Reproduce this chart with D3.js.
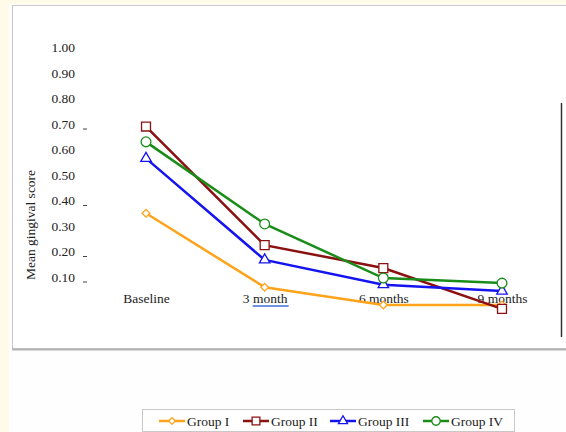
<!DOCTYPE html>
<html>
<head>
<meta charset="utf-8">
<script src="https://cdn.jsdelivr.net/npm/d3@7"></script>
<style>
html,body{margin:0;padding:0;background:#fffbe8;}
svg{display:block;}
</style>
</head>
<body>
<svg id="chart" width="566" height="432"></svg>
<script>
const categories = ["Baseline", "3 month", "6 months", "9 months"];
const groupNames = ["Group I", "Group II", "Group III", "Group IV"];
const groupI   = [0.35, 0.06, -0.01, -0.01];
const groupII  = [0.69, 0.225, 0.135, -0.025];
const groupIII = [0.565, 0.167, 0.07, 0.045];
const groupIV  = [0.63, 0.308, 0.096, 0.076];
const yTickValues = [1.0, 0.9, 0.8, 0.7, 0.6, 0.5, 0.4, 0.3, 0.2, 0.1];
const dashedTicks = [0.7, 0.4, 0.2, 0.1];
const colors = ["#ffa31a", "#8b1010", "#1414f0", "#1a8c1a"];
const symbols = [d3.symbolSquare, d3.symbolSquare, d3.symbolTriangle, d3.symbolCircle];
const symbolRot = [45, 0, 0, 0];
const symbolSizes = [30, 80, 48, 75];

const series = [groupI, groupII, groupIII, groupIV].map((vals, i) => ({
  name: groupNames[i], color: colors[i], symbol: symbols[i], size: symbolSizes[i], rot: symbolRot[i],
  values: vals.map((v, j) => ({cat: categories[j], v}))
}));

const svg = d3.select("#chart");
const font = "'Liberation Serif','Times New Roman',serif";

// outer white area and panel
svg.append("rect").attr("x", 9).attr("y", 4).attr("width", 557).attr("height", 428).attr("fill", "#fefefe");
svg.append("rect").attr("x", 12.5).attr("y", 5.5).attr("width", 560).attr("height", 343)
  .attr("fill", "#ffffff").attr("stroke", "#c8c8c8").attr("stroke-width", 1);
svg.append("line").attr("x1", 12).attr("x2", 566).attr("y1", 349.5).attr("y2", 349.5)
  .attr("stroke", "#b4b4b4").attr("stroke-width", 2);

const x = d3.scalePoint().domain(categories).range([146, 502]);
const y = d3.scaleLinear().domain([0, 1]).range([302.5, 47.5]);

// y tick labels
const yAxis = d3.axisLeft(y).tickValues(yTickValues).tickFormat(d3.format(".2f")).tickSize(0);
const gy = svg.append("g").attr("transform", "translate(75,0)").call(yAxis);
gy.select(".domain").remove();
gy.selectAll("text").attr("font-family", font).attr("font-size", 13.5).attr("fill", "#222").attr("x", 0);

svg.append("g").selectAll("line").data(dashedTicks).join("line")
  .attr("x1", 83).attr("x2", 87).attr("y1", d => y(d) + 5).attr("y2", d => y(d) + 5)
  .attr("stroke", "#444").attr("stroke-width", 1);

// y title
svg.append("text").attr("transform", "translate(35,225) rotate(-90)")
  .attr("text-anchor", "middle").attr("font-family", font).attr("font-size", 13.5)
  .attr("fill", "#222").text("Mean gingival score");

// x labels
const xAxis = d3.axisBottom(x).tickSize(0);
const gx = svg.append("g").attr("transform", "translate(0,290)").call(xAxis);
gx.select(".domain").remove();
gx.selectAll("text").attr("font-family", font).attr("font-size", 13.5).attr("fill", "#222")
  .attr("dy", "0.35em").attr("y", 8);

// spell-check underline under "month"
svg.append("line").attr("x1", x("3 month") - 12).attr("x2", x("3 month") + 24)
  .attr("y1", 306).attr("y2", 306).attr("stroke", "#6f93e0").attr("stroke-width", 2);

// right black line
svg.append("line").attr("x1", 561.5).attr("x2", 561.5).attr("y1", 103).attr("y2", 337)
  .attr("stroke", "#333").attr("stroke-width", 1.5);

// lines
const line = d3.line().x(d => x(d.cat)).y(d => y(d.v));
svg.append("g").selectAll("path").data(series).join("path")
  .attr("d", d => line(d.values)).attr("fill", "none")
  .attr("stroke", d => d.color).attr("stroke-width", 2.5);

// markers
series.forEach(s => {
  svg.append("g").selectAll("path").data(s.values).join("path")
    .attr("transform", d => `translate(${x(d.cat)},${y(d.v)}) rotate(${s.rot})`)
    .attr("d", d3.symbol().type(s.symbol).size(s.size))
    .attr("fill", "#fff").attr("stroke", s.color).attr("stroke-width", 1.3);
});

// legend
const legend = svg.append("g");
legend.append("rect").attr("x", 142.5).attr("y", 409.5).attr("width", 372).attr("height", 22)
  .attr("fill", "#fff").attr("stroke", "#c8c8c8");
const legendX = [159, 243, 330, 423];
series.forEach((s, i) => {
  const g = legend.append("g").attr("transform", `translate(${legendX[i]},421)`);
  g.append("line").attr("x1", 0).attr("x2", 26).attr("stroke", s.color).attr("stroke-width", 2.5);
  g.append("path").attr("transform", `translate(13,0) rotate(${s.rot})`)
    .attr("d", d3.symbol().type(s.symbol).size(s.size * 0.75))
    .attr("fill", "#fff").attr("stroke", s.color).attr("stroke-width", 1.3);
  g.append("text").attr("x", 28).attr("dy", "0.35em").attr("font-family", font)
    .attr("font-size", 13.5).attr("fill", "#222").text(s.name);
});
</script>
</body>
</html>
